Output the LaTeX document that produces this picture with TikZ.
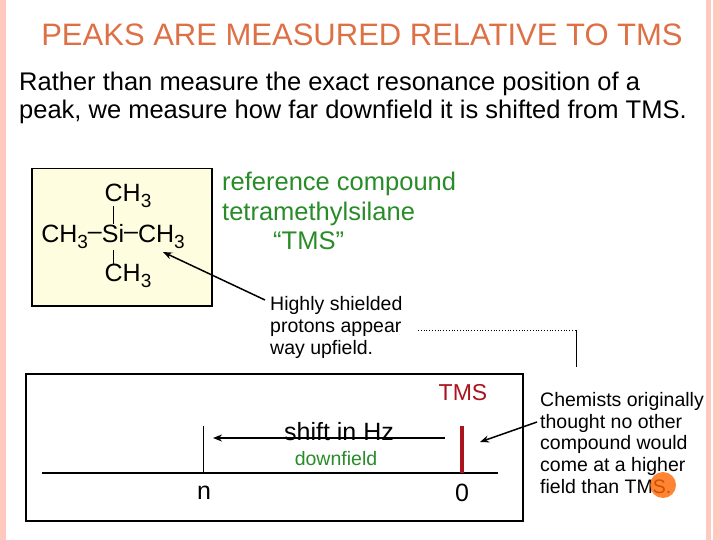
\documentclass[tikz,border=0pt]{standalone}
\usepackage{fontspec}
\usetikzlibrary{arrows.meta}
\setmainfont{Liberation Sans}
\definecolor{ttlc}{RGB}{222,112,70}
\definecolor{grn}{RGB}{40,140,40}
\definecolor{dred}{RGB}{170,20,30}
\newcommand\lsub[1]{\raisebox{-0.45ex}{\fontsize{19}{19}\selectfont #1}}
\begin{document}
\begin{tikzpicture}[x=1pt,y=-1pt,
  lbl/.style={inner sep=0pt,align=left,anchor=north west},
  ttl/.style={inner sep=0pt,font=\fontsize{31}{36}\selectfont,text=ttlc},
  arr/.style={-{Stealth[length=9pt,width=7pt]},line width=1.5pt}]
\useasboundingbox (0,0) rectangle (720,540);
\fill[white] (0,0) rectangle (720,540);
\fill[orange!30!red!25] (0,0) rectangle (6,540);
\fill[orange!30!red!25] (706,0) rectangle (720,540);
\draw[white,line width=1.5pt] (712,0) -- (712,540);
\node[ttl] (title) at (362,35) {PEAKS ARE MEASURED RELATIVE TO TMS};
\node[lbl,font=\fontsize{25.5}{28}\selectfont] (intro) at (19,72) {Rather than measure the exact resonance position of a\\peak, we measure how far downfield it is shifted from TMS.};
\node[draw,line width=1.5pt,fill=yellow!12,minimum width=180,minimum height=137,anchor=north west] (mol) at (31,168) {};
\begin{scope}[font=\fontsize{25}{28}\selectfont]
\node[inner sep=0pt] (si) at (113,237) {CH\lsub{3}\raisebox{0.25ex}{–}Si\raisebox{0.25ex}{–}CH\lsub{3}};
\node[inner sep=0pt] (top) at (128,196) {CH\lsub{3}};
\node[inner sep=0pt] (bot) at (128,276) {CH\lsub{3}};
\end{scope}
\draw[line width=1pt] (113,206) -- (113,224) (113,250) -- (113,264);
\node[lbl,font=\fontsize{25.5}{29.5}\selectfont,text=grn] (ref) at (222,172) {reference compound\\tetramethylsilane\\\hspace*{2.0em}``TMS''};
\node[lbl,font=\fontsize{19.5}{22}\selectfont] (hs) at (270,296) {Highly shielded\\protons appear\\way upfield.};
\coordinate (a1) at (265,300);
\draw[arr] (a1) -- (163,252);
\coordinate (d1) at (418,330); \coordinate (d2) at (576,330); \coordinate (d3) at (576,367);
\draw[dotted,thick] (d1) -- (d2); \draw[line width=1pt] (d2) -- (d3);
\node[draw,line width=1.5pt,minimum width=497,minimum height=147,anchor=north west] (spec) at (25,373) {};
\coordinate (bl) at (42,473); \coordinate (br) at (498,473);
\draw[line width=1.5pt] (bl) -- (br);
\coordinate (nt) at (203,426); \coordinate (nb) at (203,473);
\draw[line width=1pt] (nt) -- (nb);
\coordinate (tt) at (462,426); \coordinate (tb) at (462,473);
\draw[dred,line width=3.5pt] (tt) -- (tb);
\coordinate (as) at (445,438); \coordinate (ae) at (213,438);
\draw[arr] (as) -- (ae);
\node[inner sep=0pt,font=\fontsize{25}{28}\selectfont] (hz) at (339,432) {shift in Hz};
\node[inner sep=0pt,font=\fontsize{19.5}{22}\selectfont,text=grn] (df) at (336,459) {downfield};
\node[inner sep=0pt,font=\fontsize{25}{28}\selectfont] (n) at (204,493) {n};
\node[inner sep=0pt,font=\fontsize{25}{28}\selectfont] (z) at (462,493) {0};
\node[inner sep=0pt,font=\fontsize{23}{26}\selectfont,text=dred] (tms) at (463,393) {TMS};
\node[lbl,font=\fontsize{19.5}{21.7}\selectfont] (chem) at (540,392) {Chemists originally\\thought no other\\compound would\\come at a higher\\field than TMS.};
\coordinate (c1) at (537,422); \coordinate (c2) at (480,442);
\draw[arr] (c1) -- (c2);
\fill[orange!80!red,opacity=0.8] (663,485) circle (13);
\end{tikzpicture}
\end{document}
